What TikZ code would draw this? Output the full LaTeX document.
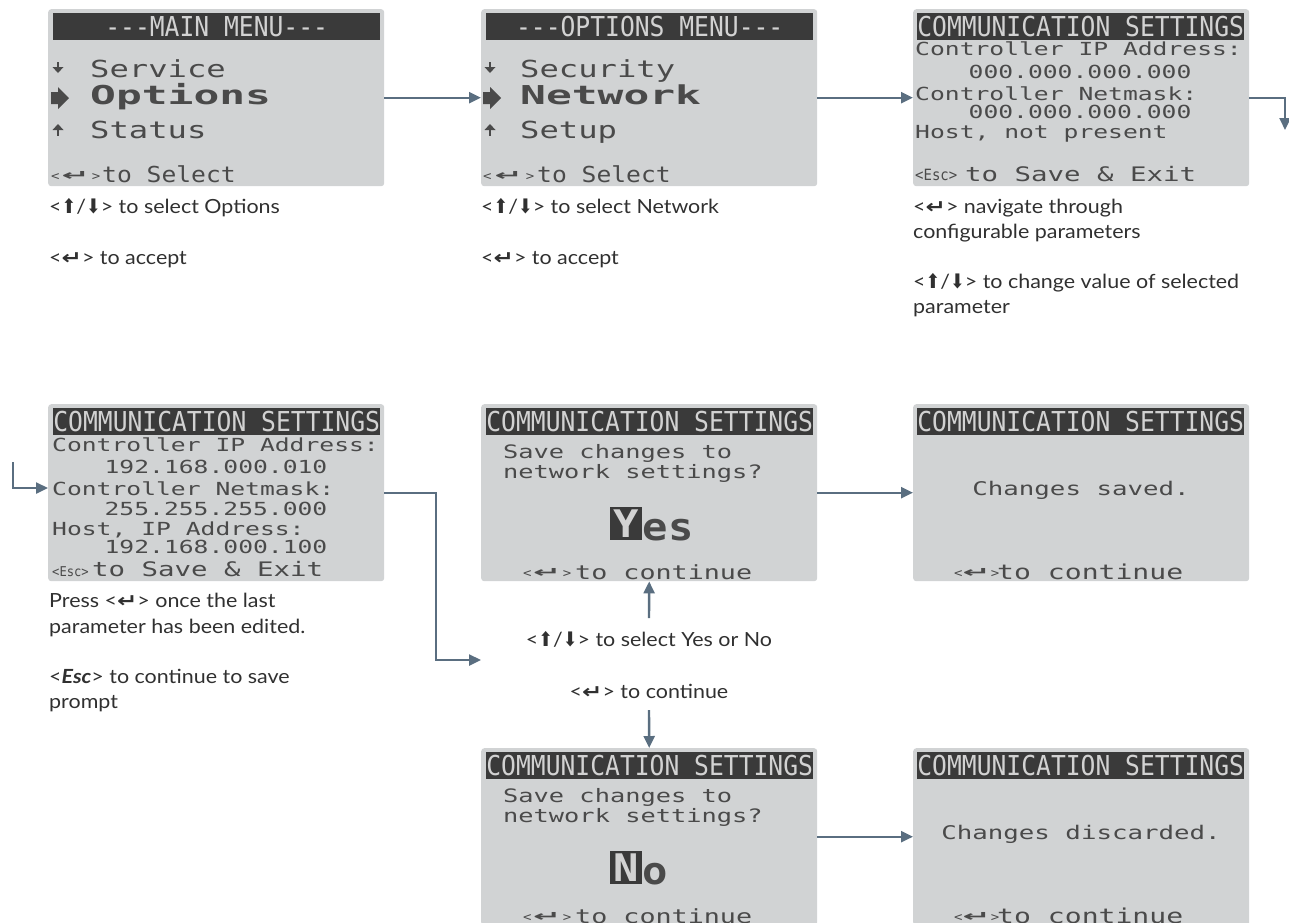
\documentclass[tikz,border=0pt]{standalone}
\usepackage{fontspec}
\usepackage{graphicx}
\usetikzlibrary{arrows.meta}
\setmainfont{Lato}[FakeStretch=1.1]
% LCD screen faces: one mono family, stretched to several aspect ratios
\newfontfamily\lcd[FakeStretch=1.37]{DejaVu Sans Mono}
\newfontfamily\lcdn[FakeStretch=1.12]{DejaVu Sans Mono}
\newfontfamily\lcdh[FakeStretch=0.90]{DejaVu Sans Mono}
\newfontfamily\lcdb[FakeStretch=1.65]{DejaVu Sans Mono}
\newfontfamily\lcdbig[FakeStretch=1.11]{DejaVu Sans Mono}
\newfontfamily\sym{DejaVu Sans}
\newcommand\fs[1]{\fontsize{#1}{#1}\selectfont}
% key symbols used in the captions
\newcommand\kup{\scalebox{1.1}[1.25]{\sym\fs{16}⬆}}
\newcommand\kdn{\scalebox{1.1}[1.25]{\sym\fs{16}⬇}}
\newcommand\kent{\scalebox{1.35}[1.05]{\sym\bfseries\fs{18}↵}}
\newcommand\kupdn{<\kup/\kdn>}
% enter key as printed on the display, spread over a given width
\newcommand\lcdent[1]{\makebox[#1][s]{{\lcdn\fs{12.5}<}\hfill\scalebox{2.1}[0.9]{\sym\bfseries\fs{16}↵}\hfill{\lcdn\fs{12.5}>}}}
\definecolor{scr}{HTML}{D1D3D4}
\definecolor{bar}{HTML}{3A3A3A}
\definecolor{lcdc}{HTML}{4A4A4A}
\definecolor{lcdlight}{HTML}{D2D2D2}
\definecolor{flowc}{HTML}{5A6E80}
\definecolor{descc}{HTML}{303030}
\begin{document}
\begin{tikzpicture}[x=1pt,y=-1pt,
  screen/.style={fill=scr, rounded corners=3pt, inner sep=0pt, minimum width=336pt, minimum height=177pt, anchor=north west},
  hbar/.style={fill=bar, text=lcdlight, inner sep=0pt, minimum width=327pt, minimum height=27pt, anchor=north west, font={\lcdh\fs{27.4}}},
  lcdtxt/.style={inner sep=0pt, anchor=base west, text=lcdc, font={\lcd\fs{18}}},
  lcdval/.style={lcdtxt, anchor=base},
  menu/.style={lcdtxt, font={\lcd\fs{23.5}}},
  menusel/.style={lcdtxt, font={\lcdb\bfseries\fs{26}}},
  foot/.style={lcdtxt, font={\lcd\fs{20}}},
  footsel/.style={lcdtxt, font={\lcdn\fs{22}}},
  esckey/.style={lcdtxt, font={\lcdh\fs{15.5}}},
  entkey/.style={inner sep=0pt, anchor=base west, text=lcdc},
  selbox/.style={fill=bar, text=lcdlight, inner sep=0pt, minimum width=32pt, minimum height=33pt, anchor=north west, font={\lcdbig\bfseries\fs{38}}},
  selrest/.style={lcdtxt, font={\lcdbig\bfseries\fs{38}}},
  desc/.style={inner sep=0pt, anchor=base west, text=descc, font=\fs{19.5}},
  descc/.style={desc, anchor=base},
  flow/.style={draw=flowc, line width=2.4pt, -{Triangle[length=12pt,width=11pt]}},
]
\path[use as bounding box] (0,0) rectangle (1289,922);
\clip (0,0) rectangle (1289,922);

% ---------------- screens ----------------
\node[screen] (s1) at (48,9) {};
\node[screen] (s2) at (481,9) {};
\node[screen] (s3) at (913,9) {};
\node[screen] (s4) at (48,404) {};
\node[screen] (s5) at (481,404) {};
\node[screen] (s6) at (913,404) {};
\node[screen] (s7) at (481,748) {};
\node[screen] (s8) at (913,748) {};

% title bars
\node[hbar] (h1) at (53,13) {---MAIN MENU---};
\node[hbar] (h2) at (486,13) {---OPTIONS MENU---};
\node[hbar] (h3) at (917,13) {COMMUNICATION SETTINGS};
\node[hbar] (h4) at (53,408) {COMMUNICATION SETTINGS};
\node[hbar] (h5) at (486,408) {COMMUNICATION SETTINGS};
\node[hbar] (h6) at (917,408) {COMMUNICATION SETTINGS};
\node[hbar] (h7) at (486,752) {COMMUNICATION SETTINGS};
\node[hbar] (h8) at (917,752) {COMMUNICATION SETTINGS};

% menu cursor marks
\foreach \mx in {58,490}{
  \fill[lcdc] (\mx-5.5,67) -- (\mx+5.5,67) -- (\mx,73) -- cycle;
  \draw[lcdc, line width=2.2pt] (\mx,62) -- (\mx,68);
  \fill[lcdc] (\mx-5.5,130) -- (\mx+5.5,130) -- (\mx,124) -- cycle;
  \draw[lcdc, line width=2.2pt] (\mx,129) -- (\mx,136);
}
\fill[lcdc] (51,92) -- (58,92) -- (58,87) -- (69,98) -- (58,109) -- (58,104) -- (51,104) -- cycle;
\fill[lcdc] (483,92) -- (490,92) -- (490,87) -- (501,98) -- (490,109) -- (490,104) -- (483,104) -- cycle;

% main menu
\node[menu] (m1a) at (90,77) {Service};
\node[menusel] (m1b) at (90,104) {Options};
\node[menu] (m1c) at (90,138) {Status};
\node[entkey] (k1) at (51,180) {\lcdent{49pt}};
\node[footsel] (f1) at (102,182) {to Select};

% options menu
\node[menu] (m2a) at (520,77) {Security};
\node[menusel] (m2b) at (520,104) {Network};
\node[menu] (m2c) at (520,138) {Setup};
\node[entkey] (k2) at (483,180) {\lcdent{51pt}};
\node[footsel] (f2) at (537,182) {to Select};

% communication settings, defaults
\node[lcdtxt] (c3a) at (915,55.5) {Controller IP Address:};
\node[lcdval] (c3b) at (1080,78) {000.000.000.000};
\node[lcdtxt] (c3c) at (915,100) {Controller Netmask:};
\node[lcdval] (c3d) at (1080,118) {000.000.000.000};
\node[lcdtxt] (c3e) at (915,138) {Host, not present};
\node[esckey] (k3) at (915,180) {<Esc>};
\node[foot] (f3) at (965,181.5) {to Save \& Exit};

% communication settings, edited
\node[lcdtxt] (c4a) at (52,451.5) {Controller IP Address:};
\node[lcdval] (c4b) at (216,473) {192.168.000.010};
\node[lcdtxt] (c4c) at (52,495) {Controller Netmask:};
\node[lcdval] (c4d) at (216,515) {255.255.255.000};
\node[lcdtxt] (c4e) at (52,535) {Host, IP Address:};
\node[lcdval] (c4f) at (216,553) {192.168.000.100};
\node[esckey, font={\lcdh\fs{13.5}}] (k4) at (52,576) {<Esc>};
\node[foot] (f4) at (92,576.5) {to Save \& Exit};

% save prompt, Yes
\node[lcdtxt, font={\lcd\fs{18.5}}] (c5a) at (503,458) {Save changes to};
\node[lcdtxt, font={\lcd\fs{18.5}}] (c5b) at (503,478) {network settings?};
\node[selbox] (y5) at (610,507) {Y};
\node[selrest] (y5r) at (y5.south east) {es};
\node[entkey] (k5) at (523,577) {\lcdent{48pt}};
\node[foot, font={\lcd\fs{19.5}}] (f5) at (575,579) {to continue};

% saved
\node[lcdval, font={\lcd\fs{18.8}}] (c6a) at (1081,495) {Changes saved.};
\node[entkey] (k6) at (954,577) {\lcdent{41pt}};
\node[foot, font={\lcd\fs{20.5}}] (f6) at (997,579) {to continue};

% save prompt, No
\node[lcdtxt, font={\lcd\fs{18.5}}] (c7a) at (503,802) {Save changes to};
\node[lcdtxt, font={\lcd\fs{18.5}}] (c7b) at (503,822) {network settings?};
\node[selbox] (n7) at (610,851) {N};
\node[selrest] (n7r) at (n7.south east) {o};
\node[entkey] (k7) at (523,921) {\lcdent{48pt}};
\node[foot, font={\lcd\fs{19.5}}] (f7) at (575,923) {to continue};

% discarded
\node[lcdval, font={\lcd\fs{18.8}}] (c8a) at (1081,839) {Changes discarded.};
\node[entkey] (k8) at (954,921) {\lcdent{41pt}};
\node[foot, font={\lcd\fs{20.5}}] (f8) at (997,923) {to continue};

% ---------------- captions ----------------
\node[desc] (d1a) at (49,213) {\kupdn{} to select Options};
\node[desc] (d1b) at (49,264) {<\kent> to accept};
\node[desc] (d2a) at (481,213) {\kupdn{} to select Network};
\node[desc] (d2b) at (481,264) {<\kent> to accept};
\node[desc] (d3a) at (913,213) {<\kent> navigate through};
\node[desc] (d3b) at (913,238) {configurable parameters};
\node[desc] (d3c) at (913,288) {\kupdn{} to change value of selected};
\node[desc] (d3d) at (913,313) {parameter};
\node[desc] (d4a) at (49,607) {Press <\kent> once the last};
\node[desc] (d4b) at (49,633) {parameter has been edited.};
\node[desc] (d4c) at (49,683) {<\textbf{\textit{Esc}}> to continue to save};
\node[desc] (d4d) at (49,708) {prompt};
\node[descc] (d5a) at (649,646.5) {\kupdn{} to select Yes or No};
\node[descc] (d5b) at (649,698) {<\kent> to continue};

% ---------------- flow ----------------
\coordinate (r3) at (1285,130);
\coordinate (l4) at (13,462);
\coordinate (y488) at (0,488);
\coordinate (elb) at (436,660);
\coordinate (t5) at (481,660);
\coordinate (u5) at (649,618);
\coordinate (d7) at (649,710);

\draw[flow] (s1.east) -- (s2.west);
\draw[flow] (s2.east) -- (s3.west);
\draw[flow] (s3.east) -| (r3);
\draw[flow] (l4) |- (s4.west |- y488);
\draw[flow] (s4.east) -| (elb) -- (t5);
\draw[flow] (s5.east) -- (s6.west);
\draw[flow] (u5) -- (s5.south);
\draw[flow] (d7) -- (s7.north);
\draw[flow] (s7.east) -- (s8.west);
\end{tikzpicture}
\end{document}
